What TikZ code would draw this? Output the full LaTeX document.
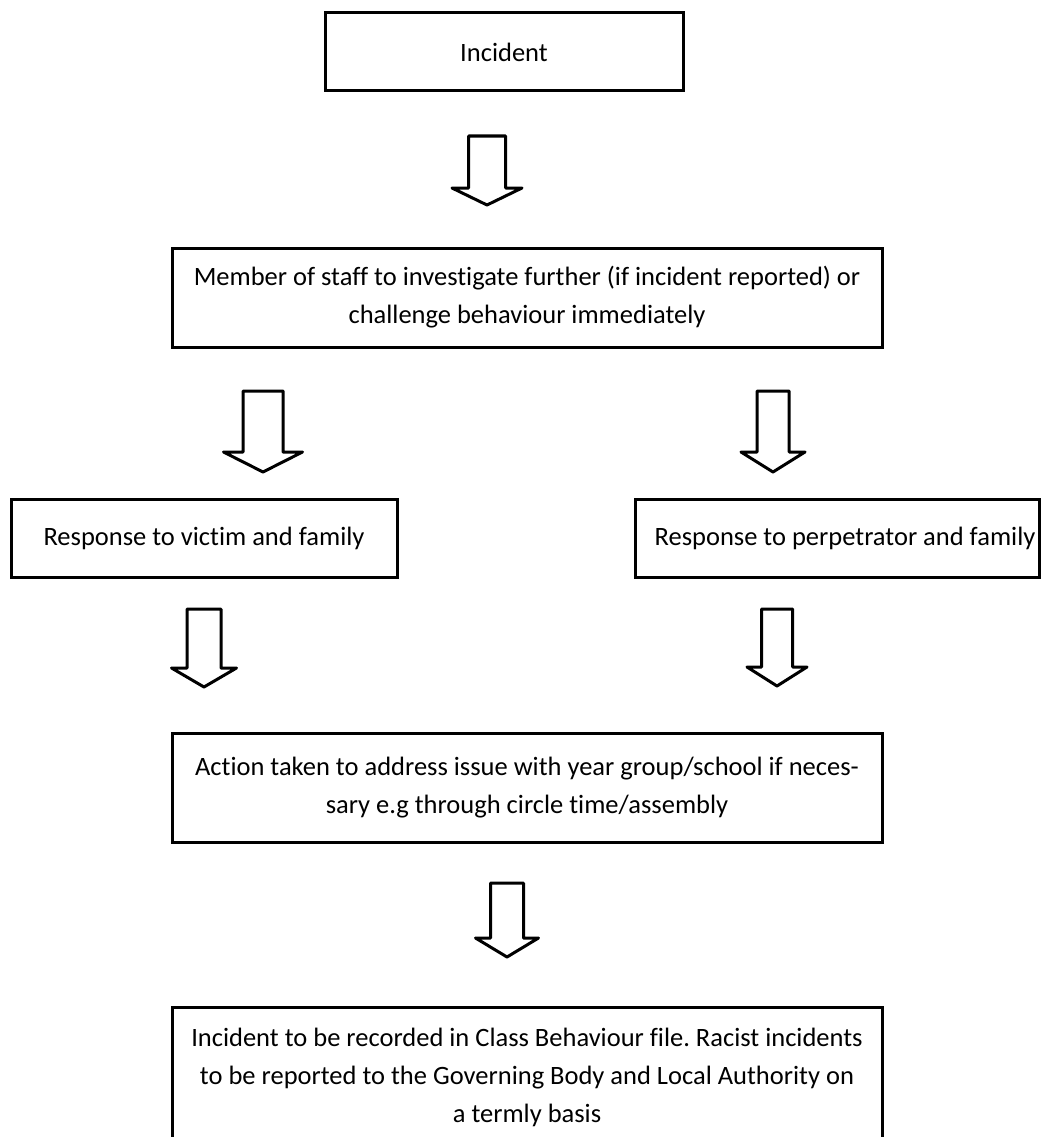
\documentclass[tikz,border=0pt]{standalone}
\usepackage{fontspec}
\setmainfont[Ligatures=NoCommon]{Carlito}
\frenchspacing
\usepackage{tikz}
\usetikzlibrary{positioning,calc}
\tikzstyle{box} = [rectangle, draw=black, line width=3pt, outer sep=0pt, inner sep=0pt, text centered, align=center, font=\fontsize{26.5pt}{38pt}\selectfont]
\tikzstyle{blockarrow} = [draw=black, line width=3pt, line join=round]
% hollow down arrow: #1 top point, #2 length, #3 shaft half width, #4 head half width, #5 head length
\newcommand{\hollowarrow}[5]{\draw[blockarrow] ([xshift=-#3pt]#1) -- ++(0,-#2+#5) -- ++(#3-#4,0) -- ++(#4,-#5) -- ++(#4,#5) -- ++(#3-#4,0) -- ++(0,#2-#5) -- cycle;}

\begin{document}
\begin{tikzpicture}[x=1pt, y=1pt]
	\useasboundingbox (0,0) rectangle (1042,-1137);
	\node (incident) [box, minimum width=358pt, minimum height=78pt] at (504,-52) {Incident};
	\node (member) [box, minimum width=710pt, minimum height=99pt, below = 157pt of incident, xshift=23pt] {Member of staff to investigate further (if incident reported) or\\challenge behaviour immediately};
	\node (victim) [box, minimum width=386pt, minimum height=78pt, below = 152pt of member, xshift=-323pt] {Response to victim and family};
	\node (perpetrator) [box, minimum width=404pt, minimum height=78pt, right = 238pt of victim] {\hspace*{16pt}Response to perpetrator and family};
	\node (action) [box, minimum width=710pt, minimum height=109pt, below = 156pt of victim, xshift=323pt] {Action taken to address issue with year group/school if neces-\\sary e.g through circle time/assembly};
	\node (record) [box, minimum width=710pt, minimum height=141pt, below = 165pt of action] {Incident to be recorded in Class Behaviour file. Racist incidents\\to be reported to the Governing Body and Local Authority on\\a termly basis};

	\coordinate [below = 45pt of incident, xshift=-17pt] (arr1);
	\coordinate [below = 44pt of member, xshift=-264pt] (arr2l);
	\coordinate [below = 44pt of member, xshift=246pt] (arr2r);
	\coordinate [below = 32pt of victim] (arr3l);
	\coordinate [below = 32pt of perpetrator, xshift=-60pt] (arr3r);
	\coordinate [below = 41pt of action, xshift=-20pt] (arr5);

	\hollowarrow{arr1}{69}{18.5}{35}{17}
	\hollowarrow{arr2l}{81}{20}{39.5}{20}
	\hollowarrow{arr2r}{81}{16}{32}{20}
	\hollowarrow{arr3l}{78}{17}{32.5}{19}
	\hollowarrow{arr3r}{77}{15.5}{30}{19}
	\hollowarrow{arr5}{74}{16.5}{31.5}{19}
\end{tikzpicture}
\end{document}
